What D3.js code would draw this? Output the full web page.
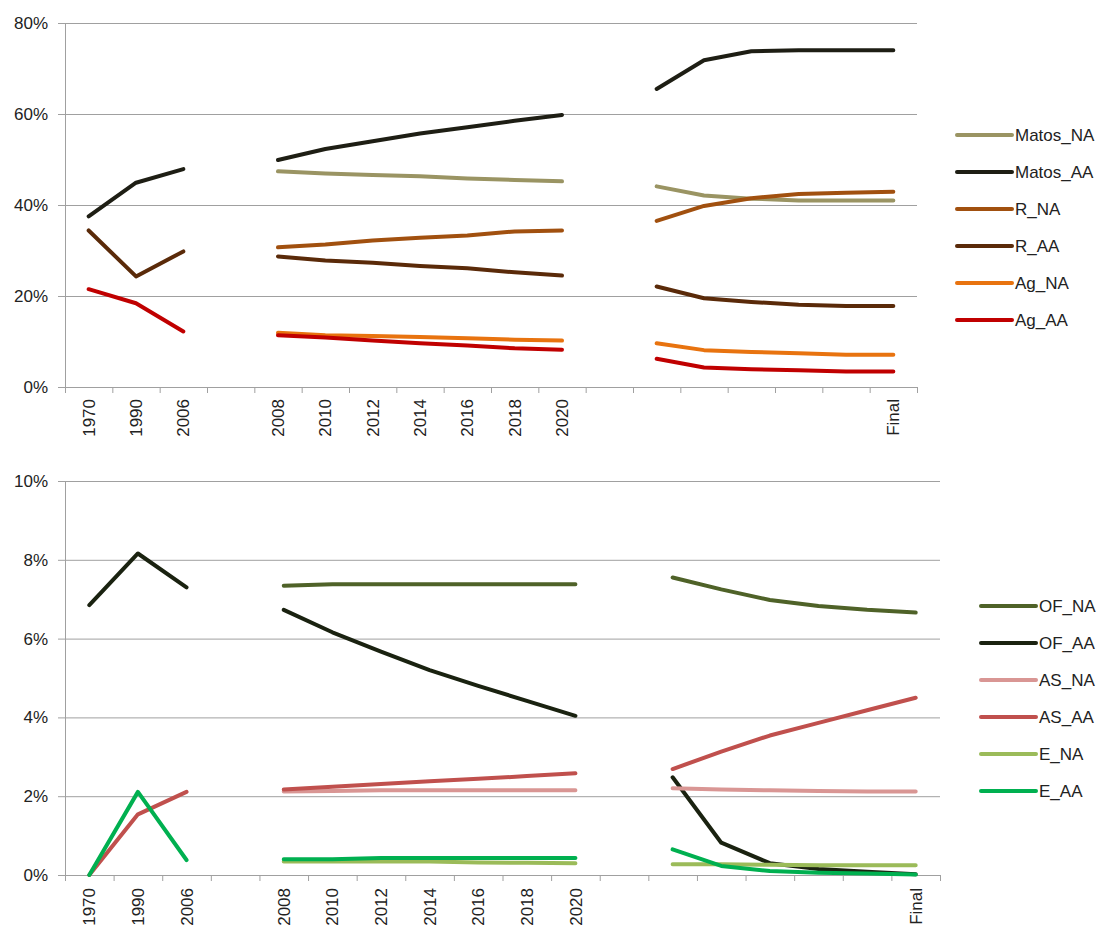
<!DOCTYPE html>
<html>
<head>
<meta charset="utf-8">
<script src="https://cdn.jsdelivr.net/npm/d3@7"></script>
<style>
  html, body { margin: 0; padding: 0; background: #fff; }
  svg { display: block; font-family: "Liberation Sans", Arial, sans-serif; }
  .axis text { font-size: 17px; fill: #222; }
  .axis path, .axis line { stroke: #a0a0a0; }
  .grid line { stroke: #a0a0a0; }
  .grid path { display: none; }
  .legend text { font-size: 17px; fill: #222; }
</style>
</head>
<body>
<script>
// Category axis: three periods separated by empty slots; the last block is unlabeled except "Final"
const categories = ["1970", "1990", "2006", "", "2008", "2010", "2012", "2014", "2016", "2018", "2020",
                    "", "", "", "", "", "", "Final"];

// Upper panel (share, %)
const topTicks = [0, 20, 40, 60, 80];
const topTickLabels = ["0%", "20%", "40%", "60%", "80%"];
const topNames = ["Matos_NA", "Matos_AA", "R_NA", "R_AA", "Ag_NA", "Ag_AA"];
const topColors = ["#9a9463", "#1e1e14", "#a1500f", "#5a2a09", "#e8730f", "#c00000"];
const matosNA = [null, null, null, null, 47.4, 46.9, 46.6, 46.3, 45.8, 45.5, 45.2, null, 44.1, 42.1, 41.4, 41.0, 41.0, 41.0];
const matosAA = [37.5, 44.9, 47.9, null, 49.9, 52.3, 54.0, 55.7, 57.1, 58.5, 59.8, null, 65.5, 71.8, 73.8, 74.0, 74.0, 74.0];
const rNA     = [null, null, null, null, 30.7, 31.3, 32.2, 32.8, 33.3, 34.2, 34.4, null, 36.5, 39.8, 41.5, 42.4, 42.7, 42.9];
const rAA     = [34.4, 24.3, 29.8, null, 28.7, 27.8, 27.3, 26.6, 26.1, 25.2, 24.5, null, 22.1, 19.5, 18.7, 18.1, 17.8, 17.8];
const agNA    = [null, null, null, null, 11.9, 11.4, 11.2, 11.0, 10.7, 10.4, 10.2, null, 9.6, 8.1, 7.7, 7.4, 7.1, 7.1];
const agAA    = [21.5, 18.4, 12.2, null, 11.4, 10.9, 10.2, 9.6, 9.1, 8.5, 8.2, null, 6.2, 4.3, 3.9, 3.7, 3.4, 3.4];

// Lower panel (share, %)
const botTicks = [0, 2, 4, 6, 8, 10];
const botTickLabels = ["0%", "2%", "4%", "6%", "8%", "10%"];
const botNames = ["OF_NA", "OF_AA", "AS_NA", "AS_AA", "E_NA", "E_AA"];
const botColors = ["#4f6228", "#1a2210", "#d99694", "#c0504d", "#9bbb59", "#00b050"];
const ofNA = [null, null, null, null, 7.34, 7.38, 7.38, 7.38, 7.38, 7.38, 7.38, null, 7.55, 7.25, 6.98, 6.83, 6.73, 6.66];
const ofAA = [6.85, 8.16, 7.30, null, 6.73, 6.16, 5.67, 5.20, 4.80, 4.42, 4.04, null, 2.48, 0.82, 0.30, 0.15, 0.08, 0.02];
const asNA = [null, null, null, null, 2.12, 2.13, 2.15, 2.15, 2.15, 2.15, 2.15, null, 2.20, 2.17, 2.15, 2.13, 2.12, 2.12];
const asAA = [0, 1.54, 2.11, null, 2.17, 2.24, 2.31, 2.38, 2.44, 2.51, 2.58, null, 2.69, 3.13, 3.54, 3.86, 4.18, 4.50];
const eNA  = [null, null, null, null, 0.34, 0.34, 0.34, 0.34, 0.32, 0.31, 0.30, null, 0.27, 0.27, 0.26, 0.25, 0.25, 0.25];
const eAA  = [0, 2.11, 0.38, null, 0.40, 0.40, 0.43, 0.43, 0.43, 0.43, 0.43, null, 0.65, 0.23, 0.10, 0.06, 0.04, 0.01];

const svg = d3.select("body").append("svg").attr("width", 1104).attr("height", 925);

function panel(cfg) {
  const g = svg.append("g");
  const idx = d3.range(categories.length);
  const x = d3.scaleBand().domain(idx).range([cfg.x0, cfg.x1]).padding(0);
  const xEdge = d3.scaleLinear().domain([0, categories.length]).range([cfg.x0, cfg.x1]);
  const y = d3.scaleLinear().domain([cfg.ticks[0], cfg.ticks[cfg.ticks.length - 1]]).range([cfg.y0, cfg.y1]);

  // horizontal gridlines
  g.append("g").attr("class", "grid")
    .attr("transform", `translate(${cfg.x0},0)`)
    .call(d3.axisLeft(y).tickValues(cfg.ticks).tickSize(-(cfg.x1 - cfg.x0)).tickFormat(""));

  // y axis
  g.append("g").attr("class", "axis")
    .attr("transform", `translate(${cfg.x0},0)`)
    .call(d3.axisLeft(y).tickValues(cfg.ticks).tickSizeInner(7).tickSizeOuter(0).tickPadding(10)
      .tickFormat((d, i) => cfg.tickLabels[i]));

  // x axis: tick marks at category boundaries
  g.append("g").attr("class", "axis")
    .attr("transform", `translate(0,${cfg.y0})`)
    .call(d3.axisBottom(xEdge).tickValues(d3.range(categories.length + 1)).tickSizeInner(6).tickSizeOuter(0).tickFormat(""));

  // x axis: rotated category labels
  const lab = g.append("g").attr("class", "axis")
    .attr("transform", `translate(0,${cfg.y0})`)
    .call(d3.axisBottom(x).tickSize(0).tickFormat(i => categories[i]));
  lab.select(".domain").remove();
  lab.selectAll("text")
    .attr("transform", "rotate(-90)")
    .attr("text-anchor", "end")
    .attr("x", -cfg.labelGap)
    .attr("y", 0)
    .attr("dy", "0.36em");

  const line = d3.line()
    .defined(d => d != null)
    .x((d, i) => x(i) + x.bandwidth() / 2)
    .y(d => y(d));

  cfg.series.forEach((s, k) => {
    g.append("path")
      .attr("d", line(s))
      .attr("fill", "none")
      .attr("stroke", cfg.colors[k])
      .attr("stroke-width", 4)
      .attr("stroke-linejoin", "round")
      .attr("stroke-linecap", "round");
  });

  // legend
  const leg = g.append("g").attr("class", "legend");
  cfg.names.forEach((n, k) => {
    const yy = cfg.legY + k * cfg.legStep;
    leg.append("line")
      .attr("x1", cfg.legX).attr("x2", cfg.legX + 55)
      .attr("y1", yy).attr("y2", yy)
      .attr("stroke", cfg.colors[k]).attr("stroke-width", 4).attr("stroke-linecap", "round");
    leg.append("text")
      .attr("x", cfg.legX + 58).attr("y", yy).attr("dy", "0.36em")
      .text(n);
  });
}

panel({
  x0: 65, x1: 917, y0: 387, y1: 23,
  ticks: topTicks, tickLabels: topTickLabels, labelGap: 12,
  series: [matosNA, matosAA, rNA, rAA, agNA, agAA],
  names: topNames, colors: topColors,
  legX: 957, legY: 135, legStep: 37
});

panel({
  x0: 65, x1: 940, y0: 875, y1: 481,
  ticks: botTicks, tickLabels: botTickLabels, labelGap: 13,
  series: [ofNA, ofAA, asNA, asAA, eNA, eAA],
  names: botNames, colors: botColors,
  legX: 981, legY: 606, legStep: 37
});
</script>
</body>
</html>
